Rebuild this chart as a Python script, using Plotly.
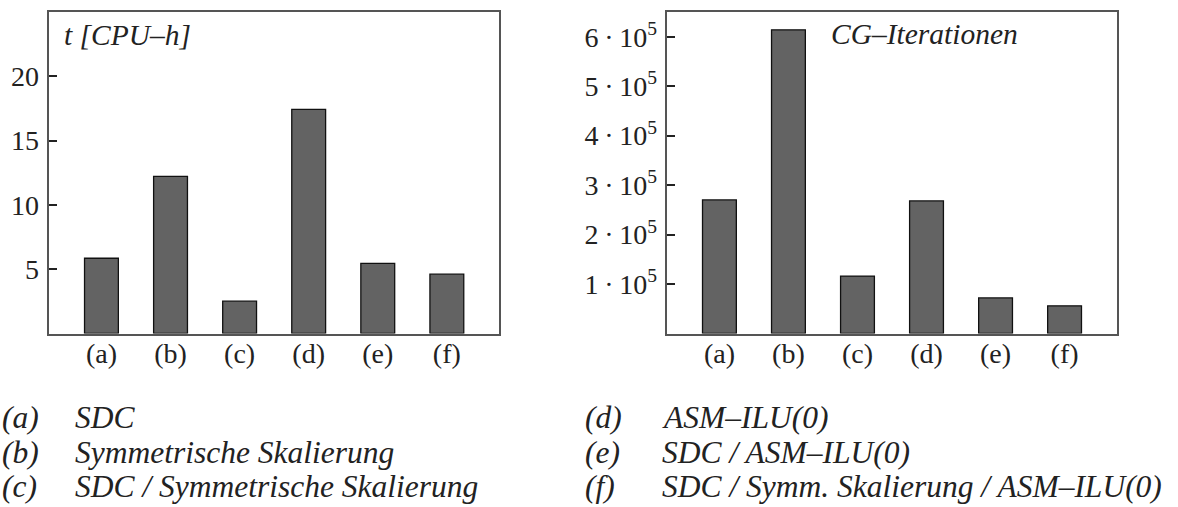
import plotly.graph_objects as go

W, H = 1178, 507

categories = ["(a)", "(b)", "(c)", "(d)", "(e)", "(f)"]
cpu_hours = [5.85, 12.22, 2.51, 17.43, 5.46, 4.61]
cg_iterations = [270000, 614000, 116000, 268000, 72000, 56000]

left_ticks = [5, 10, 15, 20]
right_ticks = [100000, 200000, 300000, 400000, 500000, 600000]
right_ticktext = ["1\u2009·\u200910<sup>5</sup>", "2\u2009·\u200910<sup>5</sup>",
                  "3\u2009·\u200910<sup>5</sup>", "4\u2009·\u200910<sup>5</sup>",
                  "5\u2009·\u200910<sup>5</sup>", "6\u2009·\u200910<sup>5</sup>"]

legend_left = [("(a)", "SDC"),
               ("(b)", "Symmetrische Skalierung"),
               ("(c)", "SDC / Symmetrische Skalierung")]
legend_right = [("(d)", "ASM–ILU(0)"),
                ("(e)", "SDC / ASM–ILU(0)"),
                ("(f)", "SDC / Symm. Skalierung / ASM–ILU(0)")]

FONT = "Liberation Serif"
TXT = "#222222"
FS = 28
FS_LABEL = 29.5
FS_LEG = 31.5

fig = go.Figure()
x_idx = list(range(len(categories)))
bar_style = dict(marker=dict(color="#636363", line=dict(color="#111111", width=1.3)),
                 width=0.49, showlegend=False, hoverinfo="skip")
fig.add_trace(go.Bar(x=x_idx, y=cpu_hours, xaxis="x", yaxis="y", **bar_style))
fig.add_trace(go.Bar(x=x_idx, y=cg_iterations, xaxis="x2", yaxis="y2", **bar_style))

def px_x(p):
    return p / W

def px_y(p):
    return 1 - p / H

y_dom = [px_y(333.5), px_y(12)]
axis_common = dict(showline=True, mirror=True, linecolor="#555555", linewidth=1.5,
                   showgrid=False, zeroline=False,
                   tickfont=dict(family=FONT, size=FS, color=TXT))
xcommon = dict(axis_common, range=[-0.755, 5.755], tickmode="array",
               tickvals=x_idx, ticktext=categories, ticks="", ticklabelstandoff=-6)
ycommon = dict(axis_common, ticks="inside", ticklen=8, tickwidth=1.5, tickcolor=TXT,
               ticklabelstandoff=3)

fig.update_layout(
    width=W, height=H,
    margin=dict(l=0, r=0, t=0, b=0),
    paper_bgcolor="white", plot_bgcolor="white",
    font=dict(family=FONT, size=FS, color=TXT),
    xaxis=dict(xcommon, domain=[px_x(49.3), px_x(499)], anchor="y"),
    yaxis=dict(ycommon, domain=y_dom, range=[0, 25], tickvals=left_ticks,
               ticktext=[str(v) for v in left_ticks], anchor="x"),
    xaxis2=dict(xcommon, domain=[px_x(667.3), px_x(1116.7)], anchor="y2"),
    yaxis2=dict(ycommon, domain=y_dom, range=[0, 650000], tickvals=right_ticks,
                ticktext=right_ticktext, anchor="x2"),
    bargap=0.5,
)

def label(text, xp, yp, size):
    return dict(text=text, x=px_x(xp), y=px_y(yp), xref="paper", yref="paper",
                xanchor="left", yanchor="middle", showarrow=False,
                font=dict(family=FONT, size=size, color=TXT, style="italic"))

ann = [label("t [CPU–h]", 62, 35, FS_LABEL),
       label("CG–Iterationen", 829, 34, FS_LABEL)]

rows_y = [417, 452, 486]
for (lab, txt), yy in zip(legend_left, rows_y):
    ann.append(label(lab, 0, yy, FS_LEG))
    ann.append(label(txt, 73, yy, FS_LEG))
for (lab, txt), yy in zip(legend_right, rows_y):
    ann.append(label(lab, 583, yy, FS_LEG))
    ann.append(label(txt, 660, yy, FS_LEG))

fig.update_layout(annotations=ann)
fig.write_html("out.html",
               config={"displayModeBar": False},
               post_script="document.body.style.margin='0px';"
                           "document.body.style.overflow='hidden';")
